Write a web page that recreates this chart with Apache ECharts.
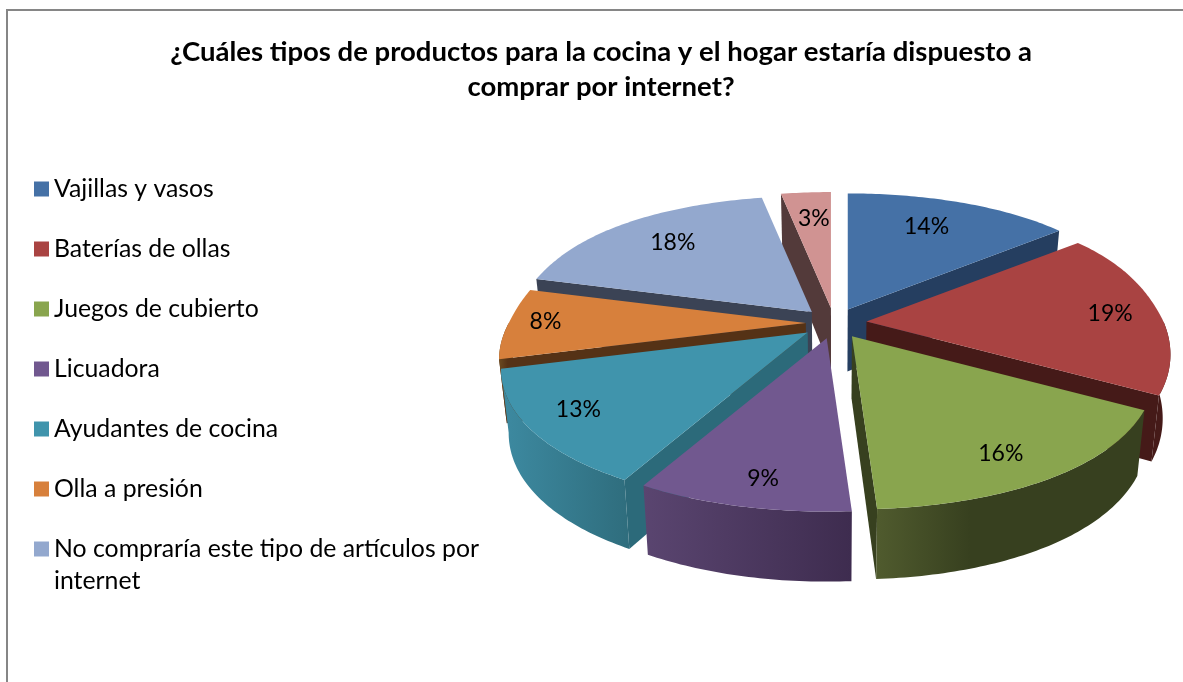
<!DOCTYPE html>
<html>
<head>
<meta charset="utf-8">
<script src="https://cdn.jsdelivr.net/npm/echarts@6/dist/echarts.min.js"></script>
<style>html,body{margin:0;padding:0;background:#fff}#c{width:1183px;height:682px}</style>
</head>
<body>
<div id="c"></div>
<script>
const titleText = '¿Cuáles tipos de productos para la cocina y el hogar estaría dispuesto a\ncomprar por internet?';
const categories = ['Vajillas y vasos','Baterías de ollas','Juegos de cubierto','Licuadora','Ayudantes de cocina','Olla a presión','No compraría este tipo de artículos por internet','Otros'];
const values = [14,19,16,9,13,8,18,3];
const legendCount = 7;

const topColors = ['#4571a6','#a94342','#89a54e','#71588f','#4094ac','#d7803c','#93a8ce','#d09392'];
const sideColors = ['#253e60','#451a18','#37401f','#3e2c4f','#2c6a7a','#553216','#3b4355','#533a3a'];
const wallLeft = ['#253e60','#451a18','#505b2e','#5a4570','#3d8aa1','#6b4a20','#3b4355','#533a3a'];
const wallRight = ['#253e60','#451a18','#37401f','#3e2c4f','#2f6d7d','#553216','#3b4355','#533a3a'];
const wallMid = [0.5,0.5,0.35,1,1,0.5,0.5,0.5];
const sliceExplode = [0.11,0.11,0.11,0.11,0.11,0.095,0.11,0.11];
const labelRadius = [0.74,0.82,0.82,0.87,0.85,0.90,0.74,0.74];
const labelShiftX = [-8,5,-9,8,0,7,2,2];
const labelShiftY = [-1,3,6,-2,-4,-1,-2,0];

// 3-D view parameters
const CX = 834, CY = 323, AX = 297, BY = 139, PERSP = 0.198, DEPTH = 62, BASE_SHRINK = 0.977;
const total = values.reduce((a,b)=>a+b,0);
const starts = []; values.reduce((s,v,i)=>{starts[i]=s;return s+v/total*2*Math.PI;},0);
const ends = values.map((v,i)=>starts[i]+v/total*2*Math.PI);

function proj(r,a){
  const c=Math.cos(a),w=1+PERSP*r*c;
  const kx=c>0?0.115+0.11*(1-c)*(1-c):(Math.sin(a)<0?0.25:0.2-0.06*c);
  return [AX*r*Math.sin(a)/(1+kx*r*c),-BY*r*c/w];
}
function sliceOrigin(i){const m=(starts[i]+ends[i])/2,o=proj(sliceExplode[i],m);return [CX+o[0],CY+o[1]];}
function topPt(i,r,a){const o=sliceOrigin(i),p=proj(r,a);return [o[0]+p[0],o[1]+p[1]];}
function botPt(i,r,a){const p=topPt(i,r,a);return [CX+(p[0]-CX)*BASE_SHRINK,p[1]+DEPTH*(1-0.13*r*Math.cos(a))];}

function sliceGroup(i){
  const a0=starts[i],a1=ends[i],children=[];
  const arcTop=[];const n=Math.max(4,Math.ceil((a1-a0)/0.015));
  for(let k=0;k<=n;k++)arcTop.push(topPt(i,1,a0+(a1-a0)*k/n));
  const radial=a=>[topPt(i,0,a),topPt(i,1,a),botPt(i,1,a),botPt(i,0,a)];
  if(Math.sin(a0)<-1e-6)children.push({type:'polygon',shape:{points:radial(a0)},style:{fill:sideColors[i]}});
  if(Math.sin(a1)>1e-6)children.push({type:'polygon',shape:{points:radial(a1)},style:{fill:sideColors[i]}});
  const f0=Math.max(a0,Math.PI/2),f1=Math.min(a1,Math.PI*1.5);
  if(f1>f0){
    const up=[],dn=[];const m=Math.max(4,Math.ceil((f1-f0)/0.015));
    for(let k=0;k<=m;k++){const a=f0+(f1-f0)*k/m;up.push(topPt(i,1,a));dn.unshift(botPt(i,1,a));}
    children.push({type:'polygon',shape:{points:up.concat(dn)},style:{fill:{type:'linear',x:0,y:0,x2:1,y2:0,colorStops:[{offset:0,color:wallLeft[i]},{offset:wallMid[i],color:wallRight[i]},{offset:1,color:wallRight[i]}]}}});
  }
  children.push({type:'polygon',shape:{points:[topPt(i,0,a0)].concat(arcTop)},style:{fill:topColors[i]}});
  const lp=topPt(i,labelRadius[i],(a0+a1)/2);
  children.push({type:'text',style:{text:values[i]+'%',x:lp[0]+labelShiftX[i],y:lp[1]+labelShiftY[i],align:'center',verticalAlign:'middle',font:'23px Lato',fill:'#000'}});
  return {type:'group',children};
}

const drawOrder=values.map((v,i)=>i).sort((p,q)=>Math.cos((starts[q]+ends[q])/2)-Math.cos((starts[p]+ends[p])/2));
const series=drawOrder.map(i=>({
  type:'custom',name:categories[i],coordinateSystem:'none',silent:true,animation:false,
  itemStyle:{color:topColors[i]},data:[[values[i]]],
  renderItem:()=>sliceGroup(i)
}));

const legendText={color:'#000',fontFamily:'Lato',fontSize:24.8,lineHeight:32};
const chart=echarts.init(document.getElementById('c'),null,{renderer:'canvas'});
chart.setOption({
  backgroundColor:'#fff',animation:false,
  title:{text:titleText,left:596,top:30,textAlign:'center',textStyle:{fontFamily:'Lato',fontWeight:'bold',fontSize:27.5,lineHeight:35,color:'#000'}},
  legend:[
    {orient:'vertical',left:29,top:168,itemWidth:15,itemHeight:15,itemGap:28,selectedMode:false,icon:'rect',data:categories.slice(0,legendCount-1),textStyle:legendText},
    {orient:'vertical',left:29,top:496,itemWidth:15,itemHeight:15,selectedMode:false,icon:'rect',data:[categories[legendCount-1]],
     formatter:s=>'\n'+s.replace(' por internet',' por\ninternet'),textStyle:legendText}
  ],
  graphic:[{type:'rect',shape:{x:7,y:10,width:1300,height:800},style:{fill:'none',stroke:'#868686',lineWidth:2},silent:true}],
  series
});
</script>
</body>
</html>
